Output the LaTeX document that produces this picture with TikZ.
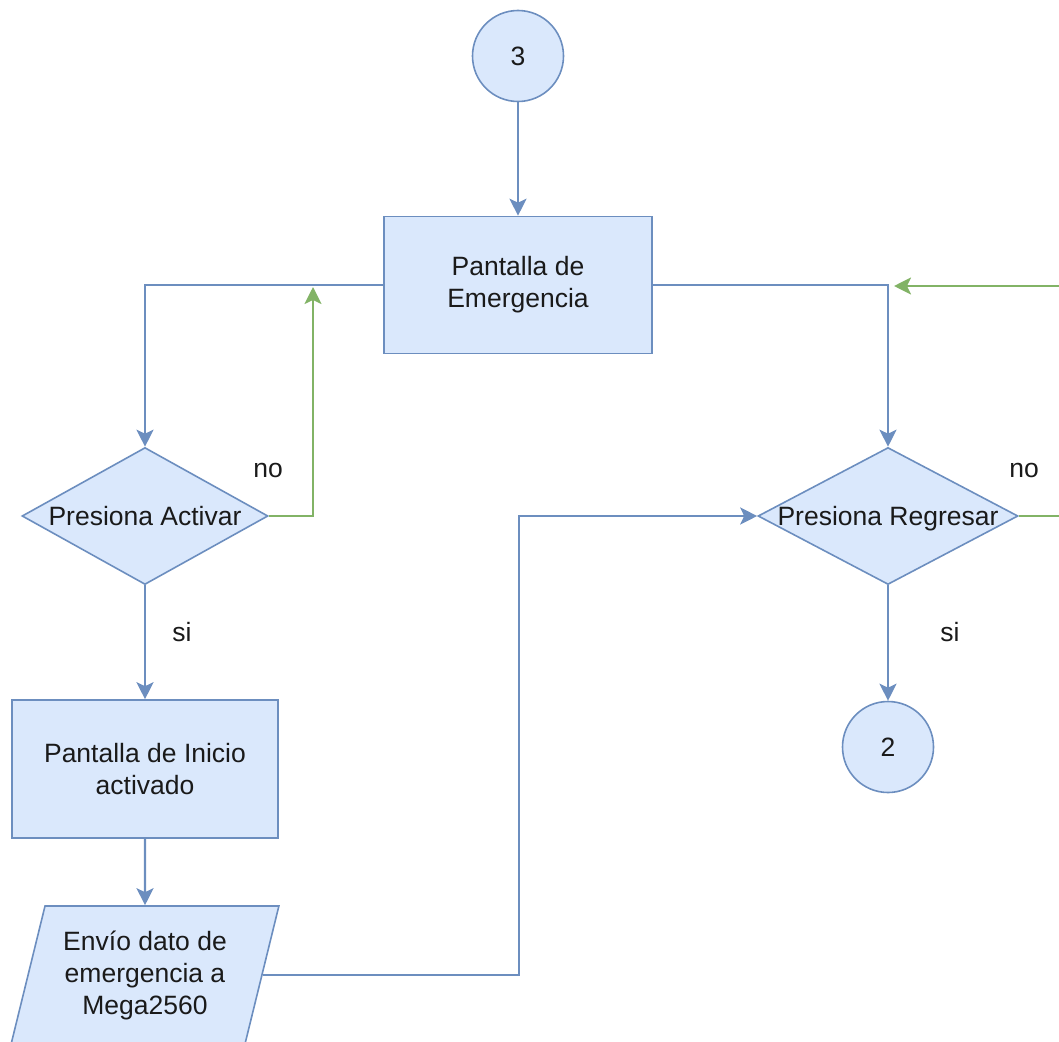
\documentclass[tikz,border=0pt]{standalone}
\usepackage{fontspec}
\setmainfont{Liberation Sans}
\usetikzlibrary{shapes.geometric,arrows.meta}
\definecolor{boxfill}{HTML}{DAE8FC}
\definecolor{boxline}{HTML}{6C8EBF}
\definecolor{noline}{HTML}{82B366}
\definecolor{ink}{HTML}{1A1A1A}
\begin{document}
\begin{tikzpicture}[x=1pt,y=-1pt,
  font=\fontsize{26.5}{32}\selectfont, text=ink,
  shapebase/.style={draw=boxline, fill=boxfill, line width=1.6pt, inner sep=0pt},
  procbox/.style={shapebase, rectangle, align=center},
  decision/.style={shapebase, diamond},
  connector/.style={shapebase, circle, minimum size=91pt},
  iobox/.style={shapebase, trapezium, trapezium left angle=72.7, trapezium right angle=107.3,
    trapezium stretches=true, align=center},
  flow/.style={draw=boxline, line width=2.3pt, -{Stealth[length=17pt,width=17pt,inset=4pt]}},
  loopback/.style={draw=noline, line width=2.3pt, -{Stealth[length=17pt,width=17pt,inset=4pt]}},
  lbl/.style={inner sep=0pt}
]
\path[use as bounding box] (0,0) rectangle (1059,1041);
\clip (0,0) rectangle (1059,1041);

% shapes
\node[connector] (c3) at (518,56) {3};
\node[procbox, minimum width=268pt, minimum height=137pt] (pe) at (518,285) {Pantalla de\\Emergencia};
\node[decision, minimum width=246pt, minimum height=137pt, label={center:Presiona Activar}] (ld) at (145,516) {};
\node[decision, minimum width=260pt, minimum height=137pt, label={[yshift=-3pt]center:Presiona Regresar}] (rd) at (888,516) {};
\node[procbox, minimum width=266pt, minimum height=138pt] (pi) at (145,769) {Pantalla de Inicio\\activado};
\node[iobox, minimum width=268pt, minimum height=138pt] (ev) at (145,975) {Envío dato de\\emergencia a\\Mega2560};
\node[connector] (c2) at (888,747) {2};

% branch labels
\node[lbl] (lno) at (268,470) {no};
\node[lbl] (lsi) at (182,632) {si};
\node[lbl] (rno) at (1024,470) {no};
\node[lbl] (rsi) at (950,632) {si};

% helper points
\coordinate (lret) at (313,287);
\coordinate (rret) at (894,286);
\coordinate (rside) at (1085,516);
\coordinate (mid) at (519,745);

% main flow
\draw[flow] (c3.south) -- (pe.north);
\draw[flow] (pe.west) -| (ld.north);
\draw[flow] (pe.east) -| (rd.north);
\draw[flow] (ld.south) -- (pi.north);
\draw[flow] (pi.south) -- (ev.north);
\draw[flow] (ev.east) -- (ev.east -| mid) |- (rd.west);
\draw[flow] (rd.south) -- (c2.north);

% "no" branches returning to the screen
\draw[loopback] (ld.east) -| (lret);
\draw[loopback] (rd.east) -- (rside) |- (rret);
\end{tikzpicture}
\end{document}
